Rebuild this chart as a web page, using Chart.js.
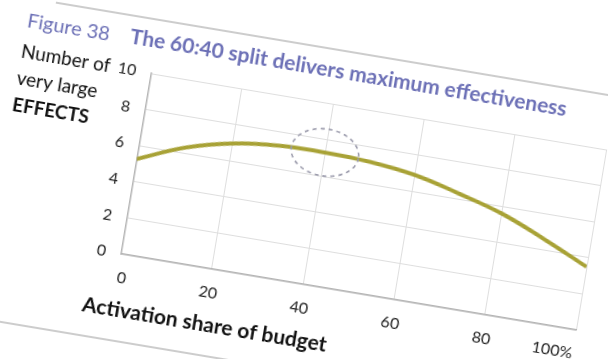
<!DOCTYPE html>
<html>
<head>
<meta charset="utf-8">
<script src="https://cdn.jsdelivr.net/npm/chart.js@4.4.1/dist/chart.umd.min.js"></script>
<style>
  html, body { margin: 0; padding: 0; background: #fff; overflow: hidden; width: 608px; height: 359px; }
  #stage {
    position: absolute; left: -50px; top: -50px; width: 708px; height: 460px;
    transform: rotate(9.5deg); transform-origin: 50% 50%;
  }
</style>
</head>
<body>
<div id="stage"><canvas id="chart" width="708" height="460"></canvas></div>
<script>
// activation share of budget (%) and number of very large effects
const activationShare = [0, 10, 20, 30, 40, 50, 60, 70, 80, 90, 100];
const largeEffects = [5.25, 6.3, 6.95, 7.25, 7.3, 7.2, 6.9, 6.3, 5.6, 4.6, 3.5];
const xTicks = [0, 20, 40, 60, 80, 100];
const yTicks = [0, 2, 4, 6, 8, 10];
const figureLabel = 'Figure 38';
const heading = 'The 60:40 split delivers maximum effectiveness';
const yTitleLines = ['Number of', 'very large', 'EFFECTS'];
const xTitle = 'Activation share of budget';
const highlight = [40, 7.3]; // the dashed ring around the sweet spot

const FONT = 'Lato, "Open Sans", sans-serif';
const PURPLE = '#6c70b6';

const extras = {
    id: 'extras',
    afterDraw(chart) {
        const ctx = chart.ctx;
        const { x, y } = chart.scales;
        ctx.save();

        // page rules
        ctx.strokeStyle = '#9a9a9a';
        ctx.lineWidth = 1;
        ctx.beginPath();
        ctx.moveTo(80, 96); ctx.lineTo(708, 96);
        ctx.moveTo(0, 420); ctx.lineTo(708, 420);
        ctx.stroke();

        // figure label + heading
        ctx.fillStyle = PURPLE;
        ctx.textBaseline = 'alphabetic';
        ctx.textAlign = 'left';
        ctx.font = '20px ' + FONT;
        ctx.fillText(figureLabel, 55, 125);
        ctx.font = 'bold 21px ' + FONT;
        ctx.fillText(heading, 159, 124);

        // y title block
        ctx.fillStyle = '#111';
        ctx.font = '19px ' + FONT;
        ctx.fillText(yTitleLines[0], 54, 156);
        ctx.fillText(yTitleLines[1], 54, 183);
        ctx.font = 'bold 19px ' + FONT;
        ctx.fillText(yTitleLines[2], 54, 210);

        // x title
        ctx.font = 'bold 21px ' + FONT;
        ctx.fillText(xTitle, 156, 396);

        // dashed ring
        ctx.strokeStyle = '#9a9aab';
        ctx.lineWidth = 1.6;
        ctx.setLineDash([4, 4]);
        ctx.beginPath();
        ctx.ellipse(x.getPixelForValue(highlight[0]), y.getPixelForValue(highlight[1]), 34, 23.5, 0, 0, Math.PI * 2);
        ctx.stroke();

        ctx.restore();
    }
};

const chart = new Chart(document.getElementById('chart'), {
    type: 'line',
    data: {
        datasets: [{
            data: activationShare.map((v, i) => ({ x: v, y: largeEffects[i] })),
            borderColor: '#a8a236',
            borderWidth: 4,
            pointRadius: 0,
            fill: false,
            tension: 0.4
        }]
    },
    options: {
        responsive: false,
        animation: false,
        layout: { padding: { left: 0, right: 61, top: 150, bottom: 0 } },
        plugins: { legend: { display: false }, tooltip: { enabled: false } },
        scales: {
            x: {
                type: 'linear', min: 0, max: 100,
                afterBuildTicks: s => { s.ticks = xTicks.map(v => ({ value: v })); },
                afterFit: s => { s.height = 127; },
                grid: { color: '#dedede', lineWidth: 1, drawTicks: false },
                border: { color: '#b4b4b4', width: 1.5 },
                ticks: {
                    align: 'inner', padding: 14, color: '#222',
                    font: { family: FONT, size: 16 },
                    callback: v => v === 100 ? '100%' : String(v)
                }
            },
            y: {
                min: 0, max: 10,
                afterBuildTicks: s => { s.ticks = yTicks.map(v => ({ value: v })); },
                afterFit: s => { s.width = 185.5; },
                grid: { color: '#dedede', lineWidth: 1, drawTicks: false },
                border: { color: '#b4b4b4', width: 1.5 },
                ticks: { padding: 15, color: '#222', font: { family: FONT, size: 16 } }
            }
        }
    },
    plugins: [extras]
});
</script>
</body>
</html>
